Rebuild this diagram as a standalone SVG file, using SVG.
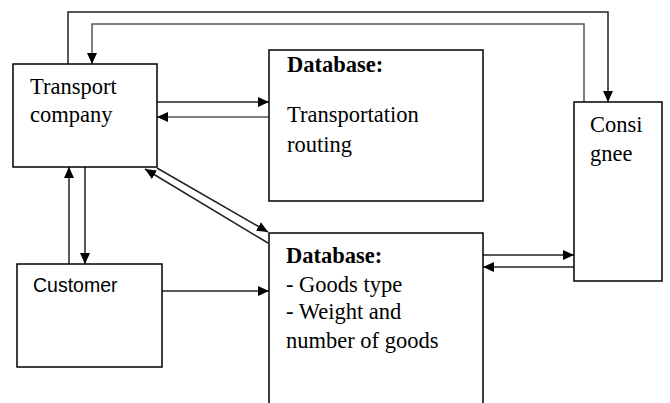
<svg xmlns="http://www.w3.org/2000/svg" width="670" height="403" viewBox="0 0 670 403">
<defs>
<marker id="arr" markerUnits="userSpaceOnUse" markerWidth="12" markerHeight="10" refX="11" refY="5" orient="auto">
<path d="M0,0 L11,5 L0,10 z" fill="#000"/>
</marker>
<style>
.box{fill:#fff;stroke:#000;stroke-width:1.5}
.ln{fill:none;stroke:#222;stroke-width:1.5}
.lg{fill:none;stroke:#555;stroke-width:1.5}
.serif{font-family:"Liberation Serif","Times New Roman",serif;font-size:22.5px;fill:#000}
.bold{font-weight:bold}
.sans{font-family:"Liberation Sans",Arial,sans-serif;font-size:19.5px;fill:#000}
</style>
</defs>
<rect width="670" height="403" fill="#fff"/>
<g id="connectors">
<polyline class="ln" points="68,64 68,12 608,12 608,102" marker-end="url(#arr)"/>
<polyline class="lg" points="584,102 584,24 92,24 92,64" marker-end="url(#arr)"/>
<line class="ln" x1="157" y1="102" x2="269" y2="102" marker-end="url(#arr)"/>
<line class="lg" x1="269" y1="117" x2="157" y2="117" marker-end="url(#arr)"/>
<line class="ln" x1="69" y1="264" x2="69" y2="167" marker-end="url(#arr)"/>
<line class="ln" x1="85" y1="167" x2="85" y2="264" marker-end="url(#arr)"/>
<line class="ln" x1="157" y1="168" x2="268" y2="232" marker-end="url(#arr)"/>
<line class="ln" x1="268" y1="243" x2="145" y2="169" marker-end="url(#arr)"/>
<line class="ln" x1="162" y1="291" x2="269" y2="291" marker-end="url(#arr)"/>
<line class="ln" x1="483" y1="255" x2="574" y2="255" marker-end="url(#arr)"/>
<line class="ln" x1="574" y1="267" x2="483" y2="267" marker-end="url(#arr)"/>
</g>
<g id="transport">
<rect class="box" x="13" y="64" width="144" height="103"/>
<text class="serif" x="30" y="94">Transport</text>
<text class="serif" x="30" y="122">company</text>
</g>
<g id="db1">
<rect class="box" x="269" y="50" width="214" height="151"/>
<text class="serif bold" x="287" y="72">Database:</text>
<text class="serif" x="287" y="122">Transportation</text>
<text class="serif" x="287" y="152">routing</text>
</g>
<g id="consignee">
<rect class="box" x="574" y="102" width="88" height="179"/>
<text class="serif" x="590" y="132">Consi</text>
<text class="serif" x="590" y="161">gnee</text>
</g>
<g id="customer">
<rect class="box" x="17" y="264" width="145" height="103"/>
<text class="sans" x="33" y="292">Customer</text>
</g>
<g id="db2">
<rect class="box" x="269" y="233" width="214" height="180"/>
<text class="serif bold" x="286" y="263">Database:</text>
<text class="serif" x="286" y="292">- Goods type</text>
<text class="serif" x="286" y="319">- Weight and</text>
<text class="serif" x="286" y="348">number of goods</text>
</g>
</svg>
